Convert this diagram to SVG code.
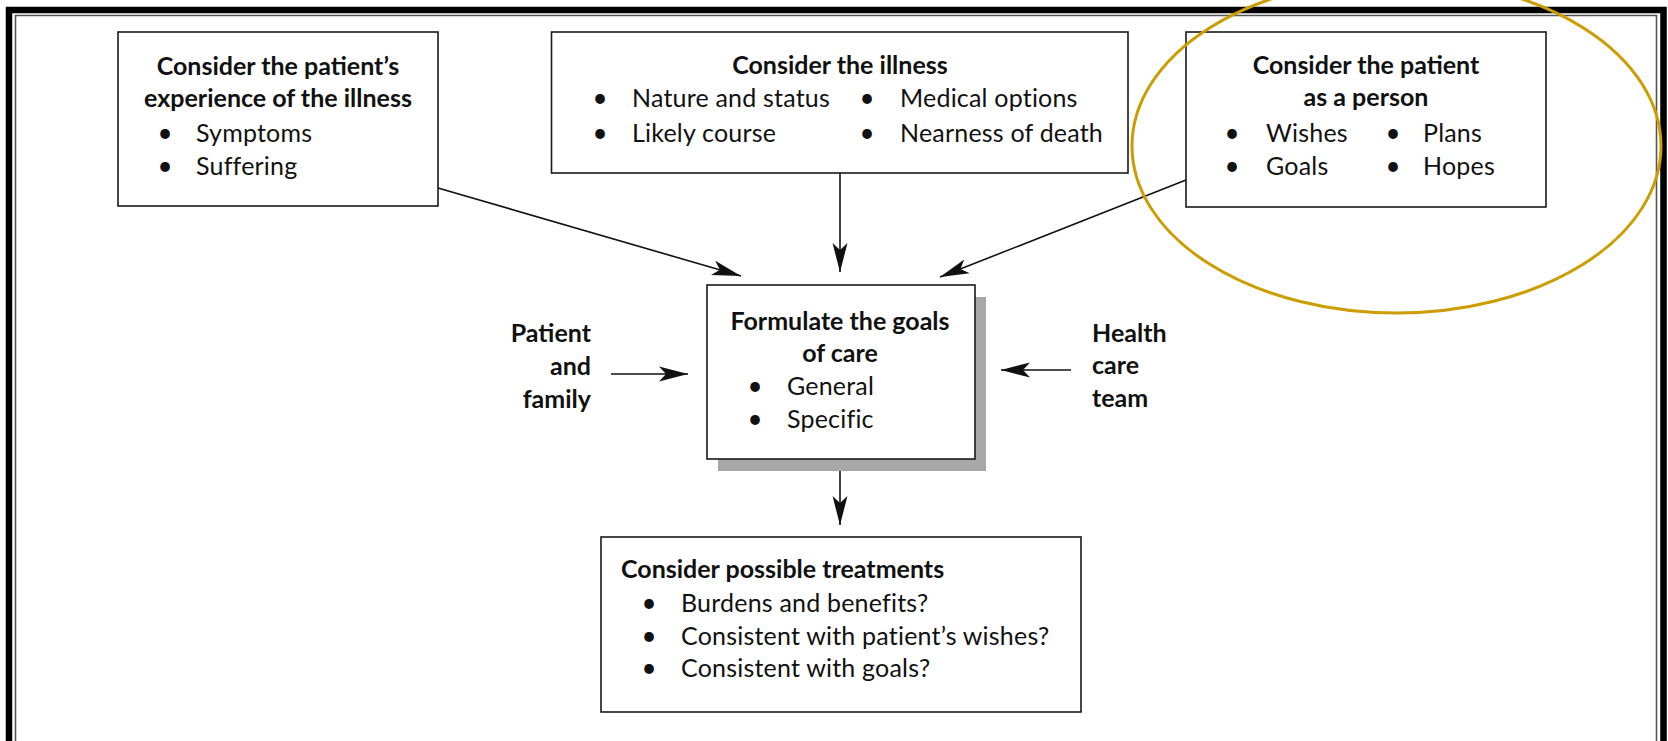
<svg xmlns="http://www.w3.org/2000/svg" width="1668" height="741" viewBox="0 0 1668 741">
<style>
.box{fill:#fff;stroke:#1a1a1a;stroke-width:1.6}
.shadow{fill:#a8a8a8;stroke:none}
.t{font-family:Lato,"Open Sans","Liberation Sans",sans-serif;fill:#111}
.h{font-weight:bold;font-size:25px}
.i{font-size:25px;letter-spacing:0.2px}
.c{text-anchor:middle}
.r{text-anchor:end}
.b{font-size:26px;text-anchor:middle}
.conn{stroke:#111;stroke-width:1.6;fill:none;marker-end:url(#ah)}
</style>
<defs>
<marker id="ah" markerUnits="userSpaceOnUse" markerWidth="30" markerHeight="18" viewBox="0 0 30 18" refX="29" refY="9" orient="auto">
<path d="M0,1.5 L29,9 L0,16.5 L7,9 Z" fill="#111"/>
</marker>
</defs>
<rect width="1668" height="741" fill="#fff"/>
<g id="frame">
<path d="M9,741 V10 H1663.5 V741" fill="none" stroke="#000" stroke-width="6.5"/>
<path d="M15.5,741 V15.5 H1656.5 V741" fill="none" stroke="#555" stroke-width="1.6"/>
</g>
<g id="connectors">
<line class="conn" x1="438" y1="188" x2="741" y2="276"/>
<line class="conn" x1="840" y1="173" x2="840" y2="272"/>
<line class="conn" x1="1186" y1="180" x2="940" y2="277"/>
<line class="conn" x1="611" y1="374" x2="688" y2="374"/>
<line class="conn" x1="1071" y1="370" x2="1001" y2="370"/>
<line class="conn" x1="840" y1="471" x2="840" y2="525"/>
</g>
<g id="node-experience">
<rect class="box" x="118" y="32" width="320" height="174"/>
<text class="t h c" x="278" y="75">Consider the patient’s</text>
<text class="t h c" x="278" y="107">experience of the illness</text>
<text class="t b" x="165" y="142">•</text>
<text class="t i" x="196" y="142">Symptoms</text>
<text class="t b" x="165" y="175">•</text>
<text class="t i" x="196" y="175">Suffering</text>
</g>
<g id="node-illness">
<rect class="box" x="551.5" y="32" width="576.5" height="141"/>
<text class="t h c" x="840" y="74">Consider the illness</text>
<text class="t b" x="600" y="107">•</text>
<text class="t i" x="632" y="107">Nature and status</text>
<text class="t b" x="867" y="107">•</text>
<text class="t i" x="900" y="107">Medical options</text>
<text class="t b" x="600" y="142">•</text>
<text class="t i" x="632" y="142">Likely course</text>
<text class="t b" x="867" y="142">•</text>
<text class="t i" x="900" y="142">Nearness of death</text>
</g>
<g id="node-person">
<rect class="box" x="1186" y="32" width="360" height="175"/>
<text class="t h c" x="1366" y="74">Consider the patient</text>
<text class="t h c" x="1366" y="106">as a person</text>
<text class="t b" x="1232" y="142">•</text>
<text class="t i" x="1266" y="142">Wishes</text>
<text class="t b" x="1393" y="142">•</text>
<text class="t i" x="1423" y="142">Plans</text>
<text class="t b" x="1232" y="175">•</text>
<text class="t i" x="1266" y="175">Goals</text>
<text class="t b" x="1393" y="175">•</text>
<text class="t i" x="1423" y="175">Hopes</text>
</g>
<g id="highlight">
<ellipse cx="1396.5" cy="146" rx="264.5" ry="167" fill="none" stroke="#CC9D00" stroke-width="3"/>
</g>
<g id="node-goals">
<rect class="shadow" x="718" y="297" width="268" height="174"/>
<rect class="box" x="707" y="285" width="268" height="174"/>
<text class="t h c" x="840" y="330">Formulate the goals</text>
<text class="t h c" x="840" y="362">of care</text>
<text class="t b" x="755" y="395">•</text>
<text class="t i" x="787" y="395">General</text>
<text class="t b" x="755" y="428">•</text>
<text class="t i" x="787" y="428">Specific</text>
</g>
<g id="node-treatments">
<rect class="box" x="601" y="537" width="480" height="175"/>
<text class="t h" x="621" y="578">Consider possible treatments</text>
<text class="t b" x="649" y="612">•</text>
<text class="t i" x="681" y="612">Burdens and benefits?</text>
<text class="t b" x="649" y="645">•</text>
<text class="t i" x="681" y="645" letter-spacing="0.6">Consistent with patient’s wishes?</text>
<text class="t b" x="649" y="677">•</text>
<text class="t i" x="681" y="677">Consistent with goals?</text>
</g>
<g id="label-patient">
<text class="t h r" x="591" y="342">Patient</text>
<text class="t h r" x="591" y="375">and</text>
<text class="t h r" x="591" y="408">family</text>
</g>
<g id="label-team">
<text class="t h" x="1092" y="342">Health</text>
<text class="t h" x="1092" y="374">care</text>
<text class="t h" x="1092" y="407">team</text>
</g>
</svg>
